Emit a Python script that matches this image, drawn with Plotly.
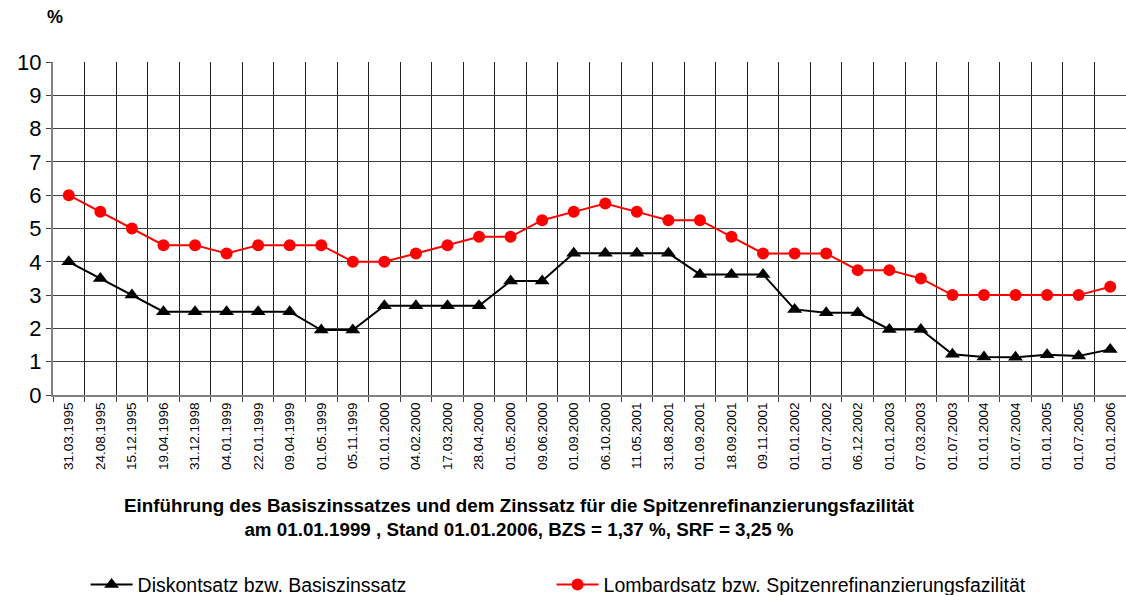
import plotly.graph_objects as go

dates = [
    "31.03.1995", "24.08.1995", "15.12.1995", "19.04.1996", "31.12.1998",
    "04.01.1999", "22.01.1999", "09.04.1999", "01.05.1999", "05.11.1999",
    "01.01.2000", "04.02.2000", "17.03.2000", "28.04.2000", "01.05.2000",
    "09.06.2000", "01.09.2000", "06.10.2000", "11.05.2001", "31.08.2001",
    "01.09.2001", "18.09.2001", "09.11.2001", "01.01.2002", "01.07.2002",
    "06.12.2002", "01.01.2003", "07.03.2003", "01.07.2003", "01.01.2004",
    "01.07.2004", "01.01.2005", "01.07.2005", "01.01.2006",
]

diskont_basis = [
    4.0, 3.5, 3.0, 2.5, 2.5, 2.5, 2.5, 2.5, 1.95, 1.95,
    2.68, 2.68, 2.68, 2.68, 3.42, 3.42, 4.26, 4.26, 4.26, 4.26,
    3.62, 3.62, 3.62, 2.57, 2.47, 2.47, 1.97, 1.97, 1.22, 1.14,
    1.13, 1.21, 1.17, 1.37,
]

lombard_srf = [
    6.0, 5.5, 5.0, 4.5, 4.5, 4.25, 4.5, 4.5, 4.5, 4.0,
    4.0, 4.25, 4.5, 4.75, 4.75, 5.25, 5.5, 5.75, 5.5, 5.25,
    5.25, 4.75, 4.25, 4.25, 4.25, 3.75, 3.75, 3.5, 3.0, 3.0,
    3.0, 3.0, 3.0, 3.25,
]

FONT = "Liberation Sans, Arial, sans-serif"

fig = go.Figure()
fig.add_trace(go.Scatter(
    x=dates, y=diskont_basis, mode="lines+markers",
    name="Diskontsatz bzw. Basiszinssatz",
    line=dict(color="#000000", width=2),
    marker=dict(symbol="triangle-up", size=13, color="#000000"),
    legendwidth=409,
))
fig.add_trace(go.Scatter(
    x=dates, y=lombard_srf, mode="lines+markers",
    name="Lombardsatz bzw. Spitzenrefinanzierungsfazilität",
    line=dict(color="#FF0000", width=2),
    marker=dict(symbol="circle", size=12, color="#FF0000"),
))

fig.update_layout(
    width=1126, height=595,
    margin=dict(l=53, r=0, t=62, b=200),
    paper_bgcolor="white", plot_bgcolor="white",
    font=dict(family=FONT, color="#000000"),
    showlegend=True,
    legend=dict(
        orientation="h", xref="container", yref="container",
        x=0.076, xanchor="left", y=0.017, yanchor="middle",
        itemwidth=42,
        font=dict(size=19.5, family=FONT), bgcolor="rgba(0,0,0,0)",
        itemclick=False, traceorder="normal",
    ),
    xaxis=dict(
        type="category", tickson="boundaries", tickangle=-90,
        range=[-0.5, len(dates) - 0.5], autorange=False,
        tickfont=dict(size=13.5, family=FONT),
        showgrid=True, gridcolor="#202020", gridwidth=1,
        showline=True, linecolor="#808080", linewidth=2,
        ticks="outside", ticklen=5, tickcolor="#404040",
        fixedrange=True,
    ),
    yaxis=dict(
        range=[0, 10], dtick=1, tick0=0,
        tickfont=dict(size=22, family=FONT),
        showgrid=True, gridcolor="#404040", gridwidth=1,
        showline=True, linecolor="#808080", linewidth=2,
        ticks="outside", ticklen=5, tickcolor="#404040",
        zeroline=False, fixedrange=True,
    ),
    annotations=[
        dict(text="<b>%</b>", xref="paper", yref="paper",
             x=0.002, y=1.134, xanchor="center", yanchor="middle",
             showarrow=False, font=dict(size=18, family=FONT)),
        dict(text="<b>Einführung des Basiszinssatzes und dem Zinssatz für die Spitzenrefinanzierungsfazilität"
                  "<br>am 01.01.1999 , Stand 01.01.2006, BZS = 1,37 %, SRF = 3,25 %</b>",
             xref="paper", yref="paper", x=0.435, y=-0.369,
             xanchor="center", yanchor="middle", showarrow=False,
             align="center", font=dict(size=18.8, family=FONT)),
    ],
)

fig.write_html("out.html")
